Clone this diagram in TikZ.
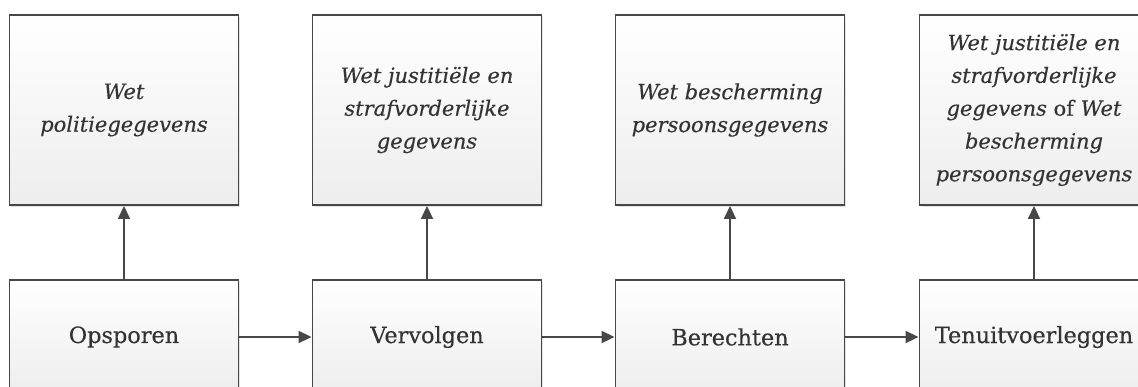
\documentclass[tikz,border=0pt]{standalone}
\usepackage{fontspec}
\setmainfont{DejaVu Serif}[FakeBold=0.35]
\usetikzlibrary{arrows.meta,shadows}
\definecolor{edge}{HTML}{474747}
\definecolor{txt}{HTML}{333333}
\tikzset{
  box/.style={draw=edge, line width=1.9pt, top color=white, bottom color=gray!14,
    minimum width=229pt, text=txt, align=center, inner sep=2pt,
    drop shadow={shadow xshift=1.5pt, shadow yshift=-1.5pt, fill=gray!35, opacity=0.6}},
  lawbox/.style={box, minimum height=190pt, font=\fontsize{21}{32.8}\selectfont\itshape},
  stagebox/.style={box, minimum height=114pt, font=\fontsize{22.4}{32}\selectfont},
  conn/.style={draw=edge, line width=1.9pt, -{Triangle[length=13pt,width=12pt]}}
}
\begin{document}
\begin{tikzpicture}[x=1pt,y=-1pt]
\useasboundingbox (0,0) rectangle (1138,386);
\fill[white] (0,0) rectangle (1138,386);
\node[lawbox] (w1) at (124,110) {Wet\\politiegegevens};
\node[lawbox] (w2) at (427,110) {Wet justitiële en\\strafvorderlijke\\gegevens};
\node[lawbox] (w3) at (730,110) {Wet bescherming\\persoonsgegevens};
\node[lawbox] (w4) at (1034,110) {Wet justitiële en\\strafvorderlijke\\gegevens {\upshape of} Wet\\bescherming\\persoonsgegevens};
\node[stagebox] (s1) at (124,337) {Opsporen};
\node[stagebox] (s2) at (427,337) {Vervolgen};
\node[stagebox] (s3) at (730,337) {Berechten};
\node[stagebox] (s4) at (1034,337) {Tenuitvoerleggen};
\draw[conn] (s1) -- (w1);
\draw[conn] (s2) -- (w2);
\draw[conn] (s3) -- (w3);
\draw[conn] (s4) -- (w4);
\draw[conn] (s1) -- (s2);
\draw[conn] (s2) -- (s3);
\draw[conn] (s3) -- (s4);
\end{tikzpicture}
\end{document}
